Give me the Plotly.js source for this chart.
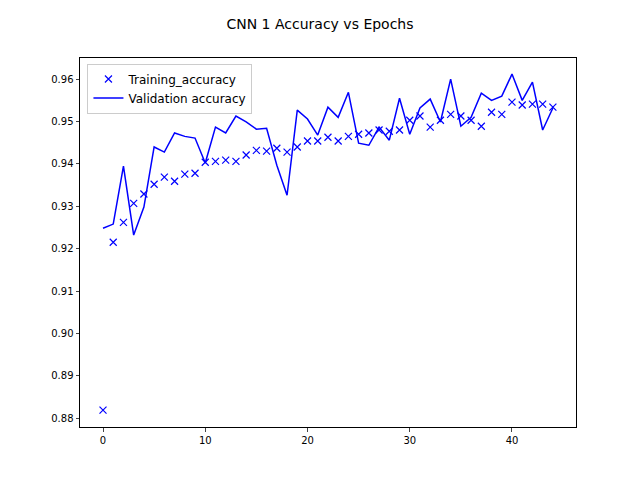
<!DOCTYPE html><html><head><script src="https://cdn.plot.ly/plotly-3.0.1.min.js"></script></head><body style="margin:0">
<div id="g" style="width:640px;height:480px"></div>
<script>
const epochs=[...Array(45).keys()];
const trainAcc=[0.8819,0.9215,0.9262,0.9307,0.9329,0.9352,0.9369,0.9359,0.9376,0.9378,0.9404,0.9406,0.9409,0.9406,0.9421,0.9432,0.9430,0.9437,0.9428,0.9440,0.9454,0.9454,0.9463,0.9454,0.9465,0.9470,0.9473,0.9480,0.9477,0.9480,0.9503,0.9513,0.9487,0.9503,0.9517,0.9513,0.9503,0.9489,0.9522,0.9517,0.9546,0.9539,0.9541,0.9541,0.9534];
const valAcc=[0.9248,0.9258,0.9395,0.9232,0.9298,0.9440,0.9428,0.9473,0.9465,0.9461,0.9402,0.9487,0.9473,0.9513,0.9499,0.9482,0.9484,0.9397,0.9326,0.9527,0.9506,0.9468,0.9534,0.9510,0.9569,0.9449,0.9444,0.9487,0.9456,0.9555,0.9470,0.9532,0.9553,0.9499,0.9600,0.9489,0.9510,0.9567,0.9550,0.9560,0.9612,0.9550,0.9593,0.9480,0.9532];
Plotly.newPlot('g',[
{x:epochs,y:trainAcc,mode:'markers',name:'Training_accuracy',marker:{symbol:'x-thin',size:7,line:{width:1.2,color:'#0000ff'},color:'#0000ff'}},
{x:epochs,y:valAcc,mode:'lines',name:'Validation accuracy',line:{color:'#0000ff',width:1.5}}
],{
width:640,height:480,margin:{l:80,r:64,t:58,b:53},paper_bgcolor:'#fff',plot_bgcolor:'#fff',
font:{family:'DejaVu Sans',size:10,color:'#000'},
title:{text:'CNN 1 Accuracy vs Epochs',font:{family:'DejaVu Sans',size:14,color:'#000'},x:0.5,xanchor:'center',yref:'paper',y:1.01,yanchor:'bottom'},
xaxis:{range:[-2.25,46.26],tickvals:[0,10,20,30,40],showgrid:false,zeroline:false,showline:true,mirror:true,linecolor:'#000',ticks:'outside',ticklen:3.5},
yaxis:{range:[0.8779,0.965],tickvals:[0.88,0.89,0.90,0.91,0.92,0.93,0.94,0.95,0.96],tickformat:'.2f',showgrid:false,zeroline:false,showline:true,mirror:true,linecolor:'#000',ticks:'outside',ticklen:3.5},
legend:{x:0.015,y:0.985,xanchor:'left',yanchor:'top',bordercolor:'#ccc',borderwidth:1,font:{family:'DejaVu Sans',size:12}},
showlegend:true
},{displayModeBar:false});
</script></body></html>
